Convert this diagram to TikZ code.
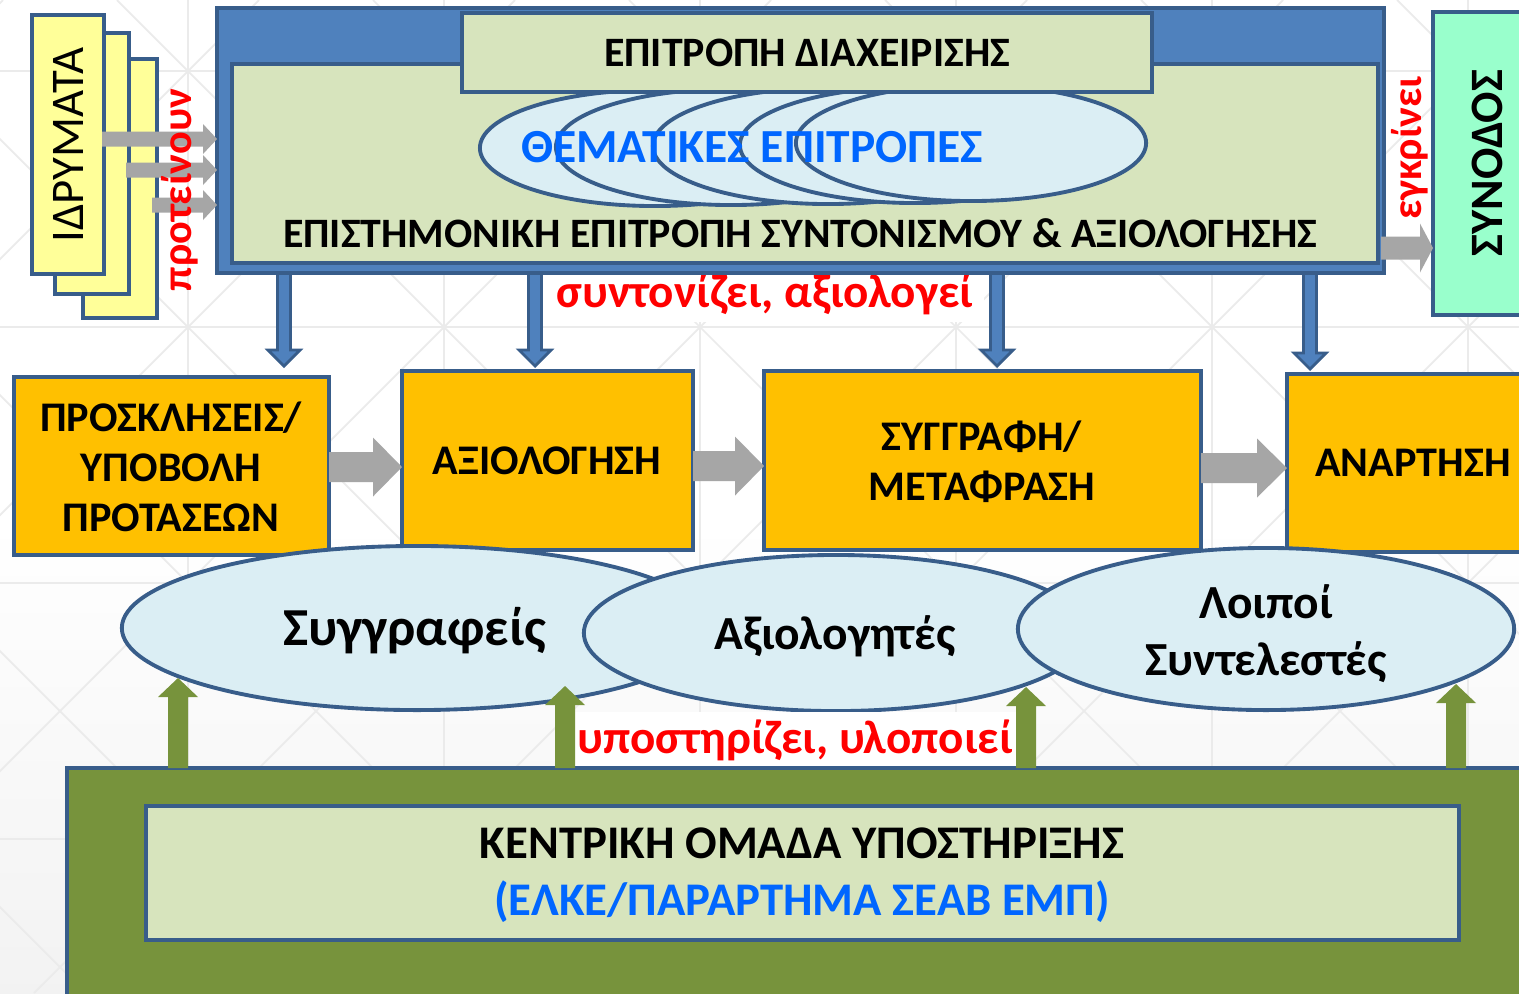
\documentclass[tikz,border=0pt]{standalone}
\usepackage{fontspec}
\setmainfont{Carlito}
\usetikzlibrary{calc,fit,shapes.geometric}
\definecolor{dk}{HTML}{385D8A}
\definecolor{bl}{HTML}{4F81BD}
\definecolor{lg}{HTML}{D7E4BD}
\definecolor{lb}{HTML}{DBEEF4}
\definecolor{yl}{HTML}{FFFF99}
\definecolor{mt}{HTML}{99FFCC}
\definecolor{og}{HTML}{FFC000}
\definecolor{gr}{HTML}{77933C}
\definecolor{ga}{HTML}{A6A6A6}
\definecolor{rd}{HTML}{FF0000}
\definecolor{tb}{HTML}{0066FF}
\definecolor{pat}{HTML}{EBEBEB}
\newcommand{\arrR}[6]{\path[#1] ($(#2)+(0,-#4)$) -- ($(#3)+(-#6,-#4)$) -- ($(#3)+(-#6,-#5)$) -- (#3) -- ($(#3)+(-#6,#5)$) -- ($(#3)+(-#6,#4)$) -- ($(#2)+(0,#4)$) -- cycle;}
\newcommand{\arrD}[6]{\path[#1] ($(#2)+(-#4,0)$) -- ($(#3)+(-#4,-#6)$) -- ($(#3)+(-#5,-#6)$) -- (#3) -- ($(#3)+(#5,-#6)$) -- ($(#3)+(#4,-#6)$) -- ($(#2)+(#4,0)$) -- cycle;}
\newcommand{\arrU}[6]{\path[#1] ($(#2)+(-#4,0)$) -- ($(#3)+(-#4,#6)$) -- ($(#3)+(-#5,#6)$) -- (#3) -- ($(#3)+(#5,#6)$) -- ($(#3)+(#4,#6)$) -- ($(#2)+(#4,0)$) -- cycle;}
\tikzset{
  bx/.style={draw=dk, line width=1.1pt, inner sep=0pt, outer sep=0pt},
  ell/.style={ellipse, draw=dk, fill=lb, line width=1.1pt, inner sep=0pt, outer sep=0pt},
  bt/.style={font=\bfseries\fontsize{11.9}{14}\selectfont, align=center, inner sep=0pt},
  pt/.style={font=\bfseries\fontsize{12}{14.2}\selectfont, align=center, inner sep=0pt},
  et/.style={font=\bfseries\fontsize{13.5}{16.2}\selectfont, align=center, inner sep=0pt},
  rt/.style={font=\bfseries\fontsize{13.4}{15}\selectfont, text=rd, inner sep=0pt},
  rtv/.style={font=\bfseries\fontsize{12}{14}\selectfont, text=rd, inner sep=0pt, rotate=90},
  grayarr/.style={fill=ga},
  bluearr/.style={fill=bl, draw=dk, line width=0.8pt, line join=miter},
  greenarr/.style={fill=gr},
  patline/.style={draw=pat, line width=0.5pt}
}
\begin{document}
\begin{tikzpicture}[x=0.01cm,y=-0.01cm]
\useasboundingbox (0,0) rectangle (1519,993);
\clip (0,0) rectangle (1519,993);
% background
\fill[white] (0,0) rectangle (1519,993);
\shade[top color=white, bottom color=black!5] (0,520) rectangle (1519,993);
\foreach \k in {-1,...,5} \path[patline] (188+256*\k,0) -- (188+256*\k,993);
\foreach \k in {0,...,3} \path[patline] (0,71+256*\k) -- (1519,71+256*\k);
\foreach \k in {-5,...,6} \path[patline] (117+256*\k,0) -- (117+256*\k+993,993);
\foreach \k in {-1,...,9} \path[patline] (259+256*\k,0) -- (259+256*\k-993,993);

% institutions
\node[bx, fill=yl, fit={(83,59) (157,318)}] (i3) {};
\node[bx, fill=yl, fit={(55,33) (129,294)}] (i2) {};
\node[bx, fill=yl, fit={(32,15) (104,274)}] (i1) {};
\node[rotate=90, font=\fontsize{13.3}{15}\selectfont, inner sep=0pt] (tidr) at (68,145) {ΙΔΡΥΜΑΤΑ};

% label under the committee
\node[rt, fill=white, inner xsep=3pt, inner ysep=2pt] (lsyn) at (765,294) {συντονίζει, αξιολογεί};

% process boxes
\node[bx, fill=og, fit={(14,377) (329,555)}] (p1) {};
\node[bx, fill=og, fit={(402,371) (693,550)}] (p2) {};
\node[bx, fill=og, fit={(764,371) (1201,550)}] (p3) {};
\node[bx, fill=og, fit={(1287,374) (1545,552)}] (p4) {};
\node[pt] (tp1) at (171,467) {ΠΡΟΣΚΛΗΣΕΙΣ/\\ΥΠΟΒΟΛΗ\\ΠΡΟΤΑΣΕΩΝ};
\node[pt] (tp2) at (547,461) {ΑΞΙΟΛΟΓΗΣΗ};
\node[pt] (tp3) at (982,462) {ΣΥΓΓΡΑΦΗ/\\ΜΕΤΑΦΡΑΣΗ};
\node[pt] (tp4) at (1413,463) {ΑΝΑΡΤΗΣΗ};

% down arrows from the committee
\coordinate (d1s) at (284,250);
\coordinate (d2s) at (535,250);
\coordinate (d3s) at (997,250);
\coordinate (d4s) at (1310,250);
\coordinate (d1t) at (284,366);
\coordinate (d2t) at (535,366);
\coordinate (d3t) at (997,366);
\coordinate (d4t) at (1310,369);
\arrD{bluearr}{d1s}{d1t}{6.5}{16}{16}
\arrD{bluearr}{d2s}{d2t}{6.5}{16}{16}
\arrD{bluearr}{d3s}{d3t}{6.5}{16}{16}
\arrD{bluearr}{d4s}{d4t}{6.5}{16}{16}

% committee
\node[bx, fill=bl, fit={(217,8) (1384,273)}] (ess) {};
\node[bx, fill=lg, fit={(232,64) (1378,263)}] (essin) {};
\node[ell, minimum width=3.5cm, minimum height=1.16cm] (th1) at (655,148) {};
\node[ell, minimum width=3.5cm, minimum height=1.16cm] (th2) at (731,147) {};
\node[ell, minimum width=3.5cm, minimum height=1.16cm] (th3) at (828,146) {};
\node[ell, minimum width=3.5cm, minimum height=1.16cm] (th4) at (915,145) {};
\node[ell, minimum width=3.5cm, minimum height=1.16cm] (th5) at (971,143) {};
\node[bx, fill=lg, fit={(462,13) (1152,92)}] (epd) {};
\node[bt] (tepd) at (807,53) {ΕΠΙΤΡΟΠΗ ΔΙΑΧΕΙΡΙΣΗΣ};
\node[font=\bfseries\fontsize{13.5}{15}\selectfont, text=tb, inner sep=0pt] (tthem) at (752,147) {ΘΕΜΑΤΙΚΕΣ ΕΠΙΤΡΟΠΕΣ};
\node[bt] (tess) at (800,233) {ΕΠΙΣΤΗΜΟΝΙΚΗ ΕΠΙΤΡΟΠΗ ΣΥΝΤΟΝΙΣΜΟΥ \& ΑΞΙΟΛΟΓΗΣΗΣ};

% synod
\node[bx, fill=mt, fit={(1433,12) (1545,315)}] (syn) {};
\node[rotate=90, font=\bfseries\fontsize{13.2}{15}\selectfont, inner sep=0pt] (tsyn) at (1487,163) {ΣΥΝΟΔΟΣ};

% arrows into / out of committee
\arrR{grayarr}{$(ess.east |- 0,248)+(-3,0)$}{syn.west |- 0,248}{11.5}{24.5}{13}
\arrR{grayarr}{$(i1.east |- 0,139)+(-2,0)$}{ess.west |- 0,139}{7.5}{15}{14}
\arrR{grayarr}{$(i2.east |- 0,170)+(-3,0)$}{ess.west |- 0,170}{7.5}{15}{14}
\arrR{grayarr}{$(i3.east |- 0,205)+(-5,0)$}{ess.west |- 0,205}{7.5}{15}{14}
\node[rtv] (lprot) at (180,190) {προτείνουν};
\node[rtv] (legk) at (1410,148) {εγκρίνει};

% process arrows
\arrR{grayarr}{p1.east |- 0,467}{p2.west |- 0,467}{15}{29.5}{29}
\arrR{grayarr}{p2.east |- 0,466}{p3.west |- 0,466}{15}{29.5}{29}
\arrR{grayarr}{p3.east |- 0,468}{p4.west |- 0,468}{15}{29.5}{30}

% contributors
\node[ell, minimum width=5.9cm, minimum height=1.64cm] (syg) at (417,628) {};
\node[ell, minimum width=5.04cm, minimum height=1.56cm] (axi) at (836,633) {};
\node[ell, minimum width=4.96cm, minimum height=1.62cm] (loi) at (1266,629) {};
\node[font=\bfseries\fontsize{15.2}{17}\selectfont, inner sep=0pt] (tsyg) at (415,631) {Συγγραφείς};
\node[et] (taxi) at (835,636) {Αξιολογητές};
\node[et] (tloi) at (1266,634) {Λοιποί\\Συντελεστές};

\node[rt, fill=white, inner xsep=1pt, inner ysep=2pt] (lypo) at (795,740) {υποστηρίζει, υλοποιεί};

% central support group
\node[bx, fill=gr, fit={(67,768) (1545,1010)}] (bot) {};
\node[bx, fill=lg, fit={(146,806) (1459,940)}] (botin) {};
\node[align=center, inner sep=0pt, font=\bfseries\fontsize{13.3}{16.2}\selectfont] (tbot) at (802,875) {ΚΕΝΤΡΙΚΗ ΟΜΑΔΑ ΥΠΟΣΤΗΡΙΞΗΣ\\\textcolor{tb}{(ΕΛΚΕ/ΠΑΡΑΡΤΗΜΑ ΣΕΑΒ ΕΜΠ)}};

\coordinate (g1t) at (178,678);
\coordinate (g2t) at (565,686);
\coordinate (g3t) at (1026,687);
\coordinate (g4t) at (1456,684);
\arrU{greenarr}{178,0 |- bot.north}{g1t}{10}{20}{19}
\arrU{greenarr}{565,0 |- bot.north}{g2t}{10}{20}{19}
\arrU{greenarr}{1026,0 |- bot.north}{g3t}{10}{20}{19}
\arrU{greenarr}{1456,0 |- bot.north}{g4t}{10}{20}{19}
\end{tikzpicture}
\end{document}
